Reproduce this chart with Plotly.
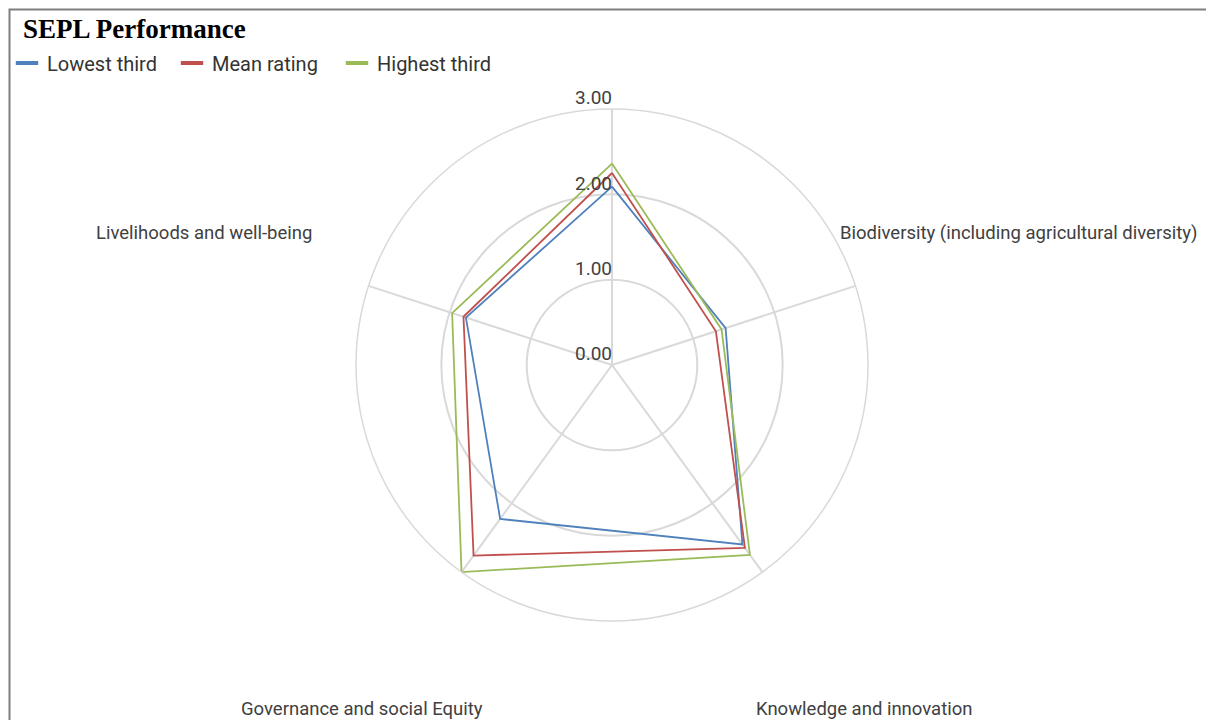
import plotly.graph_objects as go

W, H = 1206, 720

# Five SEPL resilience dimensions, clockwise from the top spoke
categories = [
    "Landscape/seascape diversity and ecosystem protection",
    "Biodiversity (including agricultural diversity)",
    "Knowledge and innovation",
    "Governance and social Equity",
    "Livelihoods and well-being",
]

lowest_third = [2.09, 1.40, 2.60, 2.23, 1.80]
mean_rating = [2.25, 1.28, 2.65, 2.76, 1.83]
highest_third = [2.36, 1.35, 2.75, 3.00, 1.97]

series_names = ["Lowest third", "Mean rating", "Highest third"]
series_colors = ["#4f81bd", "#c0504d", "#9bbb59"]

radial_ticks = [0, 1, 2, 3]
radial_tick_text = ["0.00", "1.00", "2.00", "3.00"]

GRID = "#d9d9d9"
TEXT = "#404040"
FONT = "Roboto, 'Open Sans', sans-serif"


def px_x(v):
    return v / W


def px_y(v):
    return 1 - v / H


fig = go.Figure()

for name, vals, color in zip(series_names, [lowest_third, mean_rating, highest_third], series_colors):
    fig.add_trace(go.Scatterpolar(
        r=vals + vals[:1],
        theta=categories + categories[:1],
        mode="lines",
        line=dict(color=color, width=1.8),
        name=name,
        showlegend=False,
        hovertemplate="%{theta}: %{r:.2f}<extra>" + name + "</extra>",
    ))

# value labels along the top spoke
fig.add_trace(go.Scatterpolar(
    r=radial_ticks,
    theta=[categories[0]] * len(radial_ticks),
    mode="text",
    text=radial_tick_text,
    textposition="top left",
    textfont=dict(family=FONT, size=19, color=TEXT),
    showlegend=False,
    hoverinfo="skip",
))

# legend entries with short, thick swatches
for name, color in zip(series_names, series_colors):
    fig.add_trace(go.Scatterpolar(
        r=[None], theta=[None],
        mode="markers",
        marker=dict(symbol="line-ew", size=16, color=color,
                    line=dict(width=4, color=color)),
        name=name,
        showlegend=True,
        hoverinfo="skip",
    ))

# polar area: centre (612, 365), outer radius 256 px
cx, cy, rad = 612, 365, 256
fig.update_layout(
    width=W, height=H,
    margin=dict(l=0, r=0, t=0, b=0),
    paper_bgcolor="white",
    plot_bgcolor="white",
    polar=dict(
        domain=dict(x=[px_x(cx - rad), px_x(cx + rad)],
                    y=[px_y(cy + rad), px_y(cy - rad)]),
        bgcolor="white",
        angularaxis=dict(
            rotation=90, direction="clockwise",
            showticklabels=False, ticks="",
            showline=True, linecolor=GRID, linewidth=1.5,
            gridcolor=GRID, gridwidth=1.5,
        ),
        radialaxis=dict(
            range=[0, 3], tickvals=radial_ticks,
            showticklabels=False, ticks="",
            showline=False, gridcolor=GRID, gridwidth=1.5,
            angle=90,
        ),
    ),
    legend=dict(
        orientation="h",
        x=px_x(7), xanchor="left",
        y=px_y(63), yanchor="middle",
        font=dict(family=FONT, size=20, color="#333333"),
        bgcolor="rgba(0,0,0,0)",
        entrywidth=120, entrywidthmode="pixels",
        itemclick=False,
    ),
    showlegend=True,
)

# category labels around the chart
label_specs = [
    (categories[1], 838, 233, "left"),
    (categories[2], 863.5, 709, "center"),
    (categories[3], 361.5, 709, "center"),
    (categories[4], 314, 233, "right"),
]
for text, x, y, anchor in label_specs:
    fig.add_annotation(
        text=text, x=px_x(x), y=px_y(y), xref="paper", yref="paper",
        xanchor=anchor, yanchor="middle", showarrow=False,
        font=dict(family=FONT, size=18.5, color=TEXT),
    )

fig.add_annotation(
    text="<b>SEPL Performance</b>",
    x=px_x(21), y=px_y(29), xref="paper", yref="paper",
    xanchor="left", yanchor="middle", showarrow=False,
    font=dict(family="'Times New Roman', 'Liberation Serif', serif", size=27, color="black"),
)

# frame around the chart
fig.add_shape(
    type="rect", xref="paper", yref="paper",
    x0=px_x(9.5), y0=px_y(9.5), x1=1.02, y1=-0.02,
    line=dict(color="#7f7f7f", width=2), fillcolor="rgba(0,0,0,0)",
    layer="below",
)

fig.write_html("out.html")
